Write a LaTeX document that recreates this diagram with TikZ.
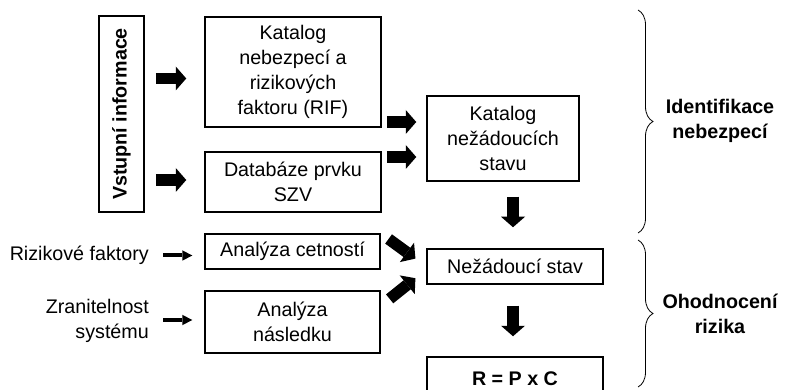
\documentclass[tikz,border=0pt]{standalone}
\usepackage{fontspec}
\setmainfont{Liberation Sans}
\usetikzlibrary{arrows.meta,decorations.pathreplacing,calc}
\begin{document}
\begin{tikzpicture}[x=1pt,y=-1pt,
  txt/.style={font=\fontsize{19.7pt}{25pt}\selectfont, align=center, inner sep=0pt},
  btxt/.style={font=\fontsize{19.7pt}{25pt}\selectfont\bfseries, align=center, inner sep=0pt},
  box/.style={draw, line width=1.5pt},
  blk/.style={line width=11.5pt, -{Triangle[width=24pt,length=10.5pt,line width=0pt]}},
  thinarr/.style={line width=4pt, -{Triangle[width=10.5pt,length=10pt,line width=0pt]}},
  brc/.style={decorate, decoration={brace, amplitude=15pt}, line width=0.8pt}]
\clip (0,0) rectangle (785,390);
\fill[white] (0,0) rectangle (785,390);
% boxes
\node[box, btxt, rotate=90, minimum width=196pt, minimum height=45pt] (vst) at (121.5,114) {Vstupní informace};
\node[box, txt, minimum width=176pt, minimum height=110pt] (rif) at (293,72) {Katalog\\nebezpecí a\\rizikových\\faktoru (RIF)};
\node[box, txt, minimum width=176pt, minimum height=60pt] (db) at (293,182) {Databáze prvku\\SZV};
\node[box, txt, minimum width=152pt, minimum height=85pt] (kns) at (503,138.5) {Katalog\\nežádoucích\\stavu};
\node[box, txt, minimum width=175pt, minimum height=35pt] (ac) at (292.5,251.5) {Analýza cetností};
\node[box, txt, minimum width=175pt, minimum height=62pt] (an) at (292.5,322) {Analýza\\následku};
\node[box, txt, minimum width=176pt, minimum height=35pt] (ns) at (515,266.5) {Nežádoucí stav};
\node[box, btxt, minimum width=176pt, minimum height=43pt] (r) at (515,378.5) {R = P x C};
% free texts
\node[txt, anchor=east] (rf) at (149,255) {Rizikové faktory};
\node[txt, align=right, anchor=east] (zs) at (149,320.5) {Zranitelnost\\systému};
\node[btxt] (idn) at (720,121) {Identifikace\\nebezpecí};
\node[btxt] (ohod) at (720,313.5) {Ohodnocení\\rizika};
% block arrows
\draw[blk, shorten <=11pt, shorten >=18pt] (vst.south |- 0,78.5) -- (rif.west |- 0,78.5);
\draw[blk, shorten <=11pt, shorten >=18pt] (vst.south |- 0,180) -- (db.west |- 0,180);
\draw[blk, shorten <=5pt, shorten >=10pt] (rif.east |- 0,122) -- (kns.west |- 0,122);
\draw[blk, shorten <=5pt, shorten >=10pt] (db.east |- 0,157) -- (kns.west |- 0,157);
\draw[blk, shorten <=15pt, shorten >=21pt] (kns.south -| 513,0) -- (ns.north -| 513,0);
\draw[blk, shorten <=21pt, shorten >=20pt] (ns.south -| 513,0) -- (r.north -| 513,0);
\draw[blk, shorten <=9.7pt, shorten >=13.4pt] (ac.north east) -- (ns.west);
\draw[blk, shorten <=11.4pt, shorten >=13.9pt] (an.east |- 0,306) -- (ns.west |- 0,269.5);
% thin arrows
\draw[thinarr, shorten <=14pt, shorten >=12pt] (rf.east |- 0,255.5) -- (ac.west |- 0,255.5);
\draw[thinarr, shorten <=14pt, shorten >=12pt] (zs.east |- 0,320) -- (an.west |- 0,320);
% braces
\draw[brc] (638,10) -- (638,233);
\draw[brc] (638,240) -- (638,387);
\end{tikzpicture}
\end{document}
